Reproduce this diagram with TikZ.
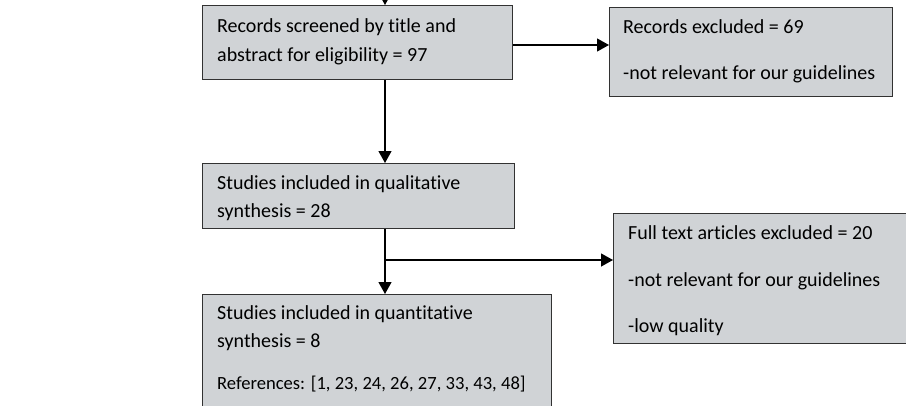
\documentclass[tikz,border=0pt]{standalone}
\usepackage{fontspec}
\setmainfont{Carlito}[Ligatures={NoCommon}]
\usetikzlibrary{arrows.meta}
\definecolor{boxfill}{RGB}{208,211,214}
\definecolor{boxline}{RGB}{50,50,50}
\begin{document}
\begin{tikzpicture}[x=1bp,y=-1bp,
  box/.style={draw=boxline,fill=boxfill,line width=1.3bp,rectangle,inner sep=0pt,anchor=north west},
  txt/.style={anchor=base west,inner sep=0pt,font=\fontsize{20bp}{24bp}\selectfont},
  smalltxt/.style={anchor=base west,inner sep=0pt,font=\fontsize{18.6bp}{22bp}\selectfont},
  flow/.style={line width=1.2bp,-{Triangle[length=12bp,width=13bp]}},
  plain/.style={line width=1.2bp}]
\clip (0,0) rectangle (906,405);
\fill[white] (0,0) rectangle (906,405);
% boxes
\node[box,minimum width=310bp,minimum height=73.5bp] (b1) at (202,5) {};
\node[box,minimum width=283bp,minimum height=89bp] (b2) at (609,7) {};
\node[box,minimum width=312bp,minimum height=65bp] (b3) at (202,163) {};
\node[box,minimum width=349bp,minimum height=130bp] (b4) at (202,294) {};
\node[box,minimum width=320bp,minimum height=130bp] (b5) at (613,213) {};
% texts
\node[txt] (t1a) at (217,32) {Records screened by title and};
\node[txt] (t1b) at (217,61) {abstract for eligibility = 97};
\node[txt] (t2a) at (623,33) {Records excluded = 69};
\node[txt] (t2b) at (623,79) {-not relevant for our guidelines};
\node[txt] (t3a) at (217,189) {Studies included in qualitative};
\node[txt] (t3b) at (217,217) {synthesis = 28};
\node[txt] (t4a) at (217,319) {Studies included in quantitative};
\node[txt] (t4b) at (217,347) {synthesis = 8};
\node[smalltxt] (t4c) at (217,389) {References: [1, 23, 24, 26, 27, 33, 43, 48]};
\node[txt] (t5a) at (628,239) {Full text articles excluded = 20};
\node[txt] (t5b) at (628,286) {-not relevant for our guidelines};
\node[txt] (t5c) at (628,332) {-low quality};
% connectors
\coordinate (top) at (385,-20);
\coordinate (split) at (385,260);
\draw[flow] (top) -- (top |- b1.north);
\draw[flow] (b1.east |- 0,45) -- (b2.west |- 0,45);
\draw[flow] (385,0 |- b1.south) -- (385,0 |- b3.north);
\draw[flow] (385,0 |- b3.south) -- (385,0 |- b4.north);
\draw[flow] (split) -- (b5.west |- split);
\end{tikzpicture}
\end{document}
